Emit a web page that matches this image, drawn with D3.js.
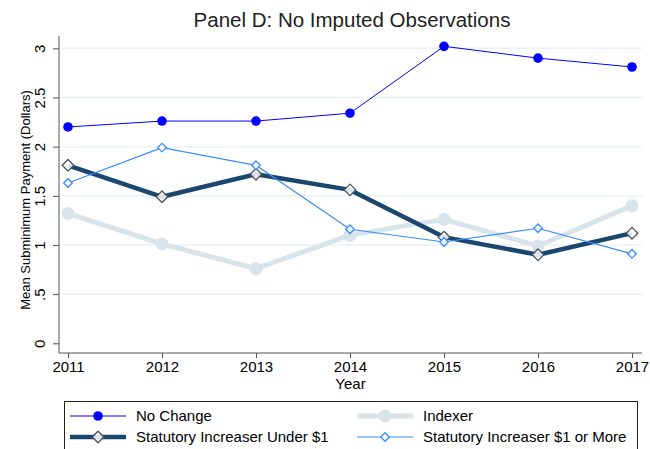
<!DOCTYPE html>
<html>
<head>
<meta charset="utf-8">
<script src="https://cdn.jsdelivr.net/npm/d3@7"></script>
<style>
  body { margin: 0; background: #fff; }
  svg { font-family: "Liberation Sans", Arial, sans-serif; }
</style>
</head>
<body>
<div class="chart"></div>
<script>
// data
var years = [2011, 2012, 2013, 2014, 2015, 2016, 2017];
var noChange = [2.20, 2.26, 2.26, 2.34, 3.02, 2.90, 2.81];
var indexer = [1.32, 1.01, 0.76, 1.10, 1.26, 0.99, 1.40];
var underOne = [1.81, 1.49, 1.72, 1.56, 1.08, 0.90, 1.12];
var oneOrMore = [1.63, 1.99, 1.81, 1.16, 1.03, 1.17, 0.91];
var yTicks = [0, 0.5, 1, 1.5, 2, 2.5, 3];
var yTickLabels = ["0", ".5", "1", "1.5", "2", "2.5", "3"];
var seriesNames = ["No Change", "Indexer", "Statutory Increaser Under $1", "Statutory Increaser $1 or More"];

var width = 650, height = 449;

var svg = d3.select(".chart")
  .append("svg")
    .attr("width", width)
    .attr("height", height);

var x = d3.scaleLinear()
  .domain([2011, 2017])
  .range([68, 632]);

var y = d3.scaleLinear()
  .domain([0, 3])
  .range([343.3, 48.3]);

var plotLeft = 59, plotRight = 642, plotBottom = 353, plotTop = 36;

// title
svg.append("text")
  .attr("x", 352)
  .attr("y", 27)
  .attr("text-anchor", "middle")
  .attr("font-size", "20.5px")
  .attr("fill", "#222")
  .text("Panel D: No Imputed Observations");

// grid
svg.append("g")
  .selectAll("line")
  .data(yTicks.filter(function (d) { return d > 0; }))
  .enter()
  .append("line")
    .attr("x1", plotLeft + 1)
    .attr("x2", plotRight)
    .attr("y1", function (d) { return y(d); })
    .attr("y2", function (d) { return y(d); })
    .style("stroke", "#eaf2f3")
    .style("stroke-width", 1.5);

// y axis
var yAxis = svg.append("g")
  .attr("transform", "translate(" + plotLeft + ",0)")
  .call(d3.axisLeft(y).tickValues(yTicks).tickSize(6).tickPadding(0)
    .tickFormat(function (d, i) { return yTickLabels[i]; }));
yAxis.select(".domain").attr("d", "M0," + plotTop + "V" + plotBottom).attr("stroke", "#555");
yAxis.selectAll(".tick line").attr("stroke", "#555");
yAxis.selectAll(".tick text")
  .attr("transform", "translate(-19,0) rotate(-90)")
  .attr("x", 0)
  .attr("dy", "0.35em")
  .attr("text-anchor", "middle")
  .attr("font-size", "15px")
  .attr("font-family", "Liberation Sans, Arial, sans-serif")
  .attr("fill", "#000");

// x axis
var xAxis = svg.append("g")
  .attr("transform", "translate(0," + plotBottom + ")")
  .call(d3.axisBottom(x).tickValues(years).tickSize(5).tickPadding(3).tickFormat(d3.format("d")));
xAxis.select(".domain").attr("d", "M" + plotLeft + ",0H" + plotRight).attr("stroke", "#555");
xAxis.selectAll(".tick line").attr("stroke", "#555");
xAxis.selectAll(".tick text")
  .attr("font-size", "15px")
  .attr("font-family", "Liberation Sans, Arial, sans-serif")
  .attr("fill", "#000");

// axis titles
svg.append("text")
  .attr("x", (plotLeft + plotRight) / 2)
  .attr("y", 389)
  .attr("text-anchor", "middle")
  .attr("font-size", "15px")
  .text("Year");

svg.append("text")
  .attr("transform", "translate(30,200) rotate(-90)")
  .attr("text-anchor", "middle")
  .attr("font-size", "13px")
  .text("Mean Subminimum Payment (Dollars)");

// square diamond, half diagonal h
function diamondPath(h) {
  return "M0," + (-h) + "L" + h + ",0L0," + h + "L" + (-h) + ",0Z";
}

var series = [
  { name: seriesNames[0], values: noChange, color: "#0000ff", lw: 1, marker: "circle", r: 4.8, fill: "#0000ff" },
  { name: seriesNames[1], values: indexer, color: "#d8e4ea", lw: 5, marker: "circle", r: 6.5, fill: "#d8e4ea" },
  { name: seriesNames[2], values: underOne, color: "#1a476f", lw: 4.5, marker: "diamond", h: 5.8, fill: "#fff", stroke: "#46525e" },
  { name: seriesNames[3], values: oneOrMore, color: "#3a8cff", lw: 1.2, marker: "diamond", h: 4.3, fill: "#fff", stroke: "#3a8cff" }
];

var line = d3.line()
  .x(function (d, i) { return x(years[i]); })
  .y(function (d) { return y(d); });

function drawMarker(g, s, cx, cy) {
  if (s.marker === "circle") {
    g.append("circle")
      .attr("cx", cx).attr("cy", cy).attr("r", s.r)
      .style("fill", s.fill);
  } else {
    g.append("path")
      .attr("d", diamondPath(s.h))
      .attr("transform", "translate(" + cx + "," + cy + ")")
      .style("fill", s.fill)
      .style("fill-opacity", 0.85)
      .style("stroke", s.stroke)
      .style("stroke-width", 1.3);
  }
}

series.forEach(function (s) {
  var g = svg.append("g");
  g.append("path")
    .datum(s.values)
    .attr("d", line)
    .style("fill", "none")
    .style("stroke", s.color)
    .style("stroke-width", s.lw)
    .style("stroke-linejoin", "round");
  s.values.forEach(function (v, i) {
    drawMarker(g, s, x(years[i]), y(v));
  });
});

// legend
var legend = svg.append("g");
legend.append("rect")
  .attr("x", 64.5)
  .attr("y", 401.5)
  .attr("width", 573)
  .attr("height", 70)
  .style("fill", "#fff")
  .style("stroke", "#222")
  .style("stroke-width", 1);

var legendPos = [
  { x: 70, y: 416 },
  { x: 357, y: 416 },
  { x: 70, y: 437 },
  { x: 357, y: 437 }
];

series.forEach(function (s, i) {
  var p = legendPos[i];
  var g = legend.append("g");
  g.append("line")
    .attr("x1", p.x).attr("x2", p.x + 56)
    .attr("y1", p.y).attr("y2", p.y)
    .style("stroke", s.color)
    .style("stroke-width", s.lw);
  drawMarker(g, s, p.x + 28, p.y);
  g.append("text")
    .attr("x", p.x + 66)
    .attr("y", p.y)
    .attr("dy", "0.35em")
    .attr("font-size", "15px")
    .text(s.name);
});
</script>
</body>
</html>
